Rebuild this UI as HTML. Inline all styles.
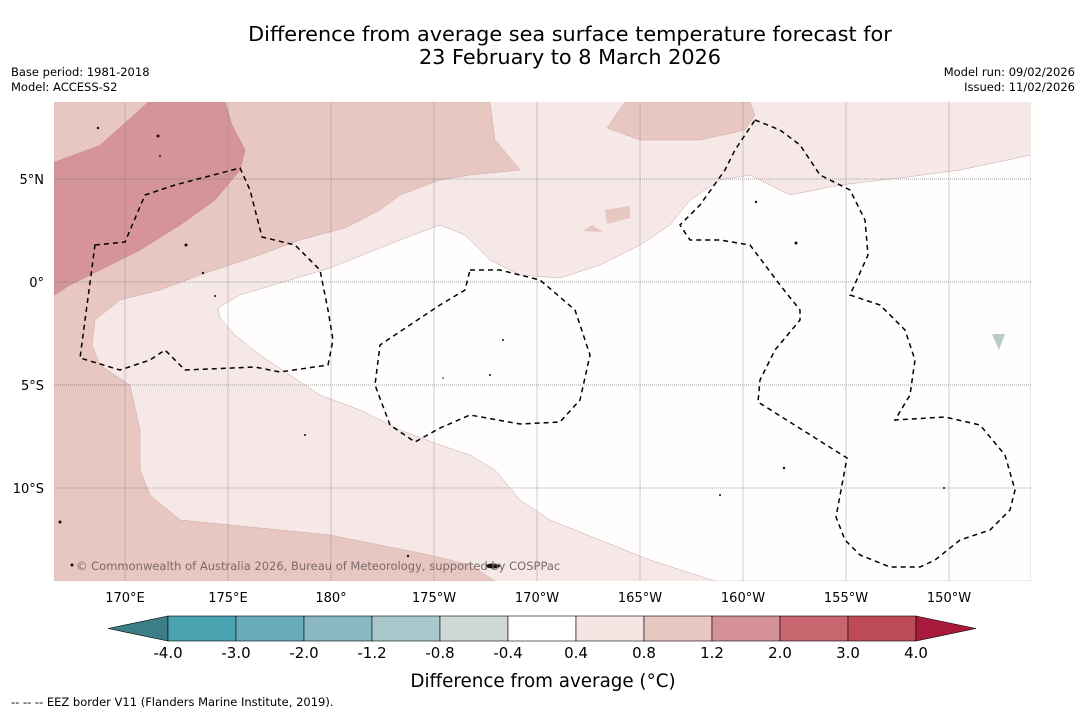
<!DOCTYPE html>
<html><head><meta charset="utf-8">
<style>
body{margin:0;background:#fff;width:1085px;height:713px;overflow:hidden;font-family:"DejaVu Sans","Liberation Sans",sans-serif;}
svg{display:block;font-family:"DejaVu Sans","Liberation Sans",sans-serif}
</style></head>
<body>
<svg id="chart" width="1085" height="713" viewBox="0 0 1085 713">
<text x="570" y="41" font-size="20.8" text-anchor="middle" fill="#000">Difference from average sea surface temperature forecast for</text>
<text x="570" y="64" font-size="20.8" text-anchor="middle" fill="#000">23 February to 8 March 2026</text>
<text x="11" y="76" font-size="11.5">Base period: 1981-2018</text>
<text x="11" y="91" font-size="11.5">Model: ACCESS-S2</text>
<text x="1075" y="76" font-size="11.5" text-anchor="end">Model run: 09/02/2026</text>
<text x="1075" y="91" font-size="11.5" text-anchor="end">Issued: 11/02/2026</text>

<g>
<clipPath id="mc"><rect x="54" y="102" width="977" height="479"/></clipPath>
<g clip-path="url(#mc)">
<rect x="54" y="102" width="977" height="479" fill="#f5e8e6"/>
<path fill="#fffdfd" stroke="#c8aaa6" stroke-width="0.5" d="M218,308 L240,295 L330,268 L400,240 L440,225 L465,235 L490,260 L520,275 L560,278 L600,265 L640,245 L670,225 L690,200 L720,180 L750,175 L790,195 L840,185 L900,178 L960,170 L1031,155 L1031,581 L715,581 L650,560 L600,540 L550,520 L520,500 L495,470 L470,455 L440,445 L400,430 L360,410 L320,395 L290,375 L260,355 L235,335 L220,318 Z"/>
<path fill="#e8c7c2" stroke="#c8aaa6" stroke-width="0.5" d="M54,102 L490,102 L495,140 L520,170 L470,175 L440,180 L400,195 L380,210 L345,228 L300,240 L260,255 L230,265 L200,275 L160,290 L120,300 L95,320 L92,345 L100,365 L130,385 L140,430 L140,470 L150,495 L180,520 L230,525 L280,530 L330,535 L380,545 L430,555 L470,565 L495,581 L54,581 Z"/>
<path fill="#e8c7c2" stroke="#c8aaa6" stroke-width="0.5" d="M625,102 L750,102 L755,115 L745,130 L700,140 L640,140 L607,128 Z"/>
<path fill="#e8c7c2" d="M605,210 L630,206 L630,218 L607,224 Z"/>
<path fill="#e8c7c2" d="M583,231 L592,225 L603,232 Z"/>
<path fill="#d5939a" stroke="#b88088" stroke-width="0.5" d="M54,162 L100,145 L148,102 L225,102 L232,125 L245,150 L240,170 L215,200 L180,225 L140,250 L100,270 L70,285 L54,295 Z"/>
<path fill="#e8c7c2" d="M54,102 L148,102 L100,145 L54,162 Z"/>
</g>
<g id="grid"></g>
<g fill="none" stroke="#000" stroke-width="1.5" stroke-dasharray="5,4">
<path d="M95,245 L125,242 L145,195 L175,185 L240,168 L250,190 L262,237 L295,245 L320,270 L328,310 L333,340 L328,365 L280,372 L255,367 L185,370 L165,350 L150,360 L120,370 L80,358 Z"/>
<path d="M470,270 L500,270 L540,280 L575,310 L590,355 L580,400 L560,422 L520,424 L470,415 L440,428 L415,442 L390,425 L375,385 L380,345 L440,305 L465,290 Z"/>
<path d="M755,120 L780,130 L800,145 L820,175 L850,190 L865,220 L868,255 L850,295 L880,305 L905,330 L915,360 L910,395 L895,420 L945,417 L980,425 L1005,455 L1015,490 L1010,510 L990,530 L960,540 L935,560 L920,567 L890,567 L860,555 L845,540 L836,517 L847,458 L758,402 L760,380 L775,350 L800,320 L800,310 L780,285 L750,245 L720,240 L690,240 L680,225 L700,205 L725,170 L735,150 Z"/>
</g>
<g fill="#111">
<circle cx="98" cy="128" r="1.2"/><circle cx="158" cy="136" r="1.5"/><circle cx="186" cy="245" r="1.5"/><circle cx="203" cy="273" r="1.2"/><circle cx="215" cy="296" r="1"/><circle cx="756" cy="202" r="1.2"/><circle cx="796" cy="243" r="1.5"/><circle cx="490" cy="375" r="1"/><circle cx="443" cy="378" r="0.8"/><circle cx="784" cy="468" r="1.2"/><circle cx="720" cy="495" r="1"/><circle cx="60" cy="522" r="1.5"/><circle cx="72" cy="565" r="1.5"/><circle cx="408" cy="556" r="1.2"/><ellipse cx="493" cy="566" rx="7" ry="2.5"/><circle cx="503" cy="340" r="1"/><circle cx="944" cy="488" r="1"/><circle cx="305" cy="435" r="1"/><circle cx="160" cy="156" r="1"/>
</g>
<path d="M992,334 L1005,334 L999,350 Z" fill="#b9ccc8"/>
<text x="76" y="570" font-size="11.5" fill="#7a6a68">© Commonwealth of Australia 2026, Bureau of Meteorology, supported by COSPPac</text>
</g>
<g id="axes" font-size="13"></g>
<g id="cbar"></g>
<text x="543" y="687" font-size="18.3" text-anchor="middle">Difference from average (°C)</text>
<text x="11" y="706" font-size="11.5">--  --  -- EEZ border V11 (Flanders Marine Institute, 2019).</text>
</svg>
<script>
const lonLabels=["170°E","175°E","180°","175°W","170°W","165°W","160°W","155°W","150°W"];
const lonValues=[170,175,180,185,190,195,200,205,210];
const latLabels=["5°N","0°","5°S","10°S"];
const latValues=[5,0,-5,-10];
const levelLabels=["-4.0","-3.0","-2.0","-1.2","-0.8","-0.4","0.4","0.8","1.2","2.0","3.0","4.0"];
const levelColors=["#4aa2b1","#68acbb","#89b7c2","#a9c8cc","#cdd8d7","#ffffff","#f5e6e4","#e8c6c2","#d4919a","#c8666f","#bd4a57"];
const underColor="#3b7e86", overColor="#a81a3b";
const NS="http://www.w3.org/2000/svg";
function lonX(v){return 125+(v-170)*20.6;}
function latY(v){return 282-v*20.6;}
function mk(t,a,p){const e=document.createElementNS(NS,t);for(const k in a)e.setAttribute(k,a[k]);p.appendChild(e);return e;}
const grid=document.getElementById('grid'),axes=document.getElementById('axes'),cb=document.getElementById('cbar');
lonValues.forEach((v,i)=>{
 const l=mk('line',{x1:lonX(v),x2:lonX(v),y1:102,y2:581,stroke:'#888','stroke-width':0.4},grid);
 
 
 const t=mk('text',{x:lonX(v),y:602,'text-anchor':'middle'},axes);t.textContent=lonLabels[i];
 
 
});
latValues.forEach((v,i)=>{
 const l=mk('line',{x1:54,x2:1031,y1:latY(v),y2:latY(v),stroke:'#555','stroke-width':0.6,'stroke-dasharray':'1,1'},grid);
 
 
 const t=mk('text',{x:44,y:latY(v)+5,'text-anchor':'end'},axes);t.textContent=latLabels[i];
 
 
});
const cx0=168,cw=68,cy=616,ch=25;
const under=mk('polygon',{points:`108,${cy+ch/2} ${cx0},${cy} ${cx0},${cy+ch}`,fill:underColor,stroke:'#000','stroke-width':0.6},cb);


levelColors.forEach((c,i)=>{
 const r=mk('rect',{x:cx0+i*cw,y:cy,width:cw,height:ch,fill:c,stroke:'#000','stroke-width':0.6},cb);
 
 
});
const xe=cx0+levelColors.length*cw;
const over=mk('polygon',{points:`${xe},${cy} ${xe+60},${cy+ch/2} ${xe},${cy+ch}`,fill:overColor,stroke:'#000','stroke-width':0.6},cb);


levelLabels.forEach((s,i)=>{
 const t=mk('text',{x:cx0+i*cw,y:658,'text-anchor':'middle','font-size':15},cb);t.textContent=s;
 
 
});
</script>
</body></html>
